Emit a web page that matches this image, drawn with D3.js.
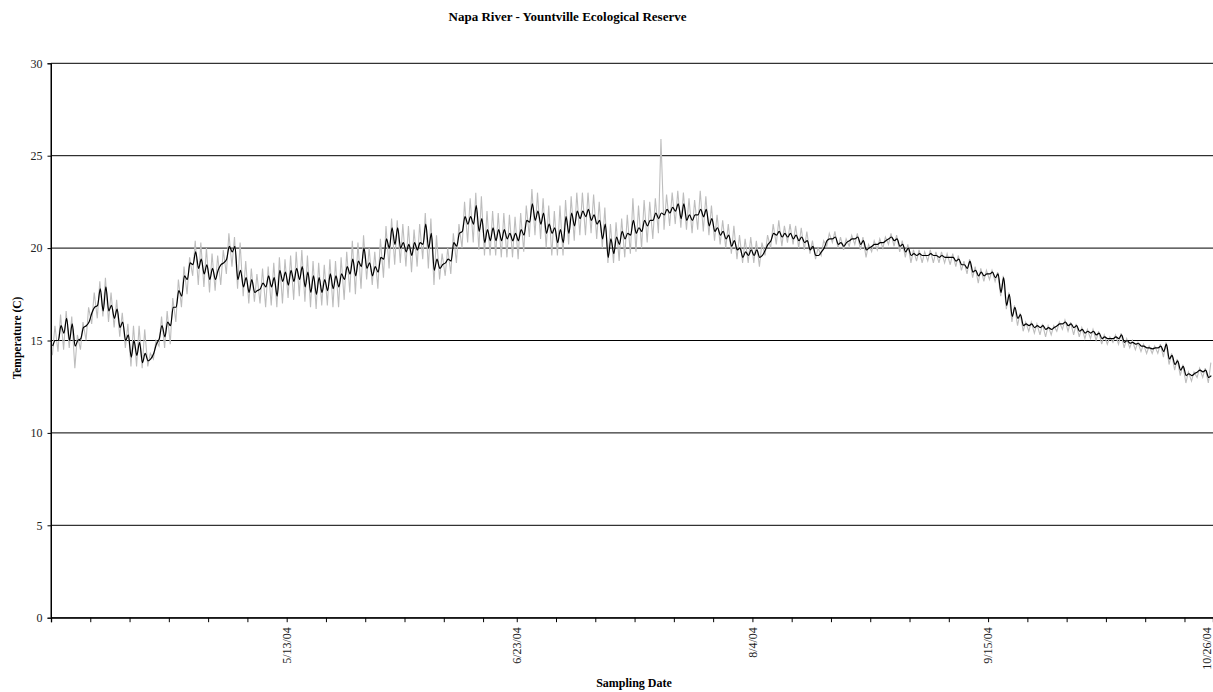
<!DOCTYPE html>
<html><head><meta charset="utf-8">
<script src="https://cdn.jsdelivr.net/npm/d3@7"></script>
<style>
body{margin:0;background:#fff}
svg{display:block}
text{font-family:"Liberation Serif","Times New Roman",serif}
</style>
</head><body>
<svg id="chart" width="1213" height="692"></svg>
<script>
// ---------- DATA ----------
const chartTitle = "Napa River - Yountville Ecological Reserve";
const xTitle = "Sampling Date";
const yTitle = "Temperature (C)";
const startDate = new Date(2004, 3, 1);           // first sampling day
const endDate = new Date(2004, 9, 25, 2);         // right edge of the visible plot
const yTicks = [0, 5, 10, 15, 20, 25, 30];
const tickDays = [0,7,14,21,28,35,42,49,56,63,70,77,83,90,97,104,111,118,125,132,139,146,153,160,167,174,181,188,195,202];
const labelDates = ["2004-05-13","2004-06-23","2004-08-04","2004-09-15","2004-10-26"];

// daily high / low of the raw (grey) record
const greyHigh = [15.8,16.4,16.6,16.3,15.3,16.0,16.8,17.6,18.2,18.4,17.6,17.2,16.5,15.9,15.8,15.8,15.6,14.3,15.0,16.3,16.6,17.3,18.3,19.0,19.5,20.4,20.3,20.0,19.7,19.6,19.9,20.8,20.6,20.3,19.3,18.9,18.6,18.9,19.0,19.2,19.5,19.4,
19.6,19.8,19.9,19.6,19.3,19.2,19.1,19.4,19.3,19.5,19.8,20.4,20.3,20.7,20.0,19.8,20.5,21.2,21.6,21.5,21.3,21.2,21.0,21.3,21.9,21.6,20.7,19.7,20.0,20.8,21.3,22.5,22.7,23.0,22.8,22.0,22.0,21.9,21.9,21.8,21.7,21.9,22.3,23.2,23.0,22.7,22.3,22.0,22.3,
22.6,22.8,23.0,23.0,23.0,22.9,22.5,22.2,21.3,21.4,21.6,21.8,22.7,22.3,22.6,22.5,22.7,25.9,22.9,23.0,23.1,23.0,22.7,22.6,23.1,22.8,22.3,21.8,21.5,21.3,21.2,20.7,20.5,20.6,20.4,20.3,20.7,21.3,21.5,21.2,21.3,21.2,21.1,20.9,20.4,20.0,20.4,20.8,20.9,20.6,20.5,
20.7,20.8,20.6,20.2,20.4,20.5,20.6,20.8,20.7,20.4,20.2,19.9,19.9,19.8,19.9,19.8,19.8,19.7,19.7,19.6,19.3,19.4,19.0,18.9,18.8,18.8,18.7,18.5,17.6,16.9,16.5,16.0,16.0,15.9,15.9,15.8,15.8,16.0,16.1,16.0,15.9,15.7,15.6,15.6,15.5,15.3,15.2,15.3,15.4,15.1,15.0,14.9,14.8,14.7,14.7,14.8,14.9,14.3,14.0,13.7,13.3,13.3,13.5,13.5,13.8];
const greyLow = [14.2,14.4,14.5,14.6,13.5,14.5,15.0,15.9,16.2,16.3,16.0,15.7,15.2,14.6,13.6,13.6,13.5,13.6,14.0,14.7,14.6,14.8,16.0,16.8,17.5,18.5,18.0,17.9,17.6,17.7,18.0,18.6,19.0,17.8,17.4,17.0,17.1,17.0,16.8,16.9,16.8,17.0,
17.3,17.2,17.4,17.1,16.8,16.7,16.9,16.9,16.8,16.8,17.2,17.6,17.5,17.8,18.3,18.0,17.8,18.4,18.9,19.1,19.2,19.0,18.7,19.0,19.4,18.9,18.0,18.3,18.5,18.6,19.2,20.0,20.3,20.3,19.9,19.6,19.6,19.6,19.5,19.5,19.5,19.4,19.8,20.6,20.7,20.5,20.0,19.6,19.6,
19.6,20.2,20.4,20.7,20.7,20.8,20.5,20.0,19.2,19.2,19.3,19.5,19.7,19.8,20.0,20.3,20.5,20.8,21.0,21.2,21.3,21.1,21.0,20.8,21.0,20.9,20.7,20.4,20.2,20.0,19.7,19.4,19.2,19.2,19.2,19.0,19.6,20.0,20.2,20.1,20.3,20.2,20.0,19.9,19.7,19.4,19.6,20.1,20.3,20.0,19.9,
20.1,20.2,19.9,19.5,19.8,19.9,20.0,20.2,20.1,19.8,19.5,19.2,19.3,19.2,19.3,19.2,19.2,19.2,19.1,19.0,18.8,18.6,18.4,18.1,18.2,18.3,18.2,17.4,16.7,16.0,15.8,15.5,15.5,15.4,15.3,15.2,15.3,15.5,15.6,15.5,15.3,15.2,15.1,15.1,15.0,14.8,14.8,14.9,14.8,14.6,14.6,14.5,14.4,14.3,14.3,14.3,14.1,13.7,13.4,13.1,12.7,12.8,13.0,13.0,12.7];
// daily high / low of the smoothed (black) record
const blackHigh = [15.0,15.8,16.2,15.9,15.0,15.7,16.0,16.8,17.8,17.9,16.9,16.7,16.0,15.3,15.0,14.9,14.3,14.0,14.8,15.8,16.0,16.8,17.7,18.5,19.2,19.8,19.4,19.1,18.9,18.8,19.2,20.1,20.1,18.8,18.4,18.3,17.7,18.1,18.5,18.4,18.8,18.7,
18.8,18.9,19.0,18.7,18.5,18.4,18.3,18.6,18.5,18.6,19.0,19.4,19.3,20.0,19.2,19.0,19.5,20.5,21.1,21.1,20.3,20.2,20.3,20.3,21.3,20.8,19.4,19.1,19.4,20.3,20.8,21.7,21.7,22.3,21.6,21.0,21.1,21.0,21.0,20.8,20.8,21.0,21.5,22.4,22.0,21.9,21.3,21.1,21.0,
21.7,21.9,22.0,22.0,22.1,21.8,21.5,21.3,20.5,20.6,20.9,20.8,21.5,21.1,21.5,21.5,21.9,21.9,22.1,22.2,22.4,22.4,21.8,21.8,22.1,22.1,21.6,21.1,20.9,20.7,20.4,20.0,19.8,19.9,19.9,19.6,20.2,20.8,20.9,20.8,20.8,20.7,20.6,20.4,20.1,19.6,20.0,20.5,20.6,20.3,20.3,
20.5,20.6,20.4,20.0,20.2,20.3,20.4,20.6,20.5,20.2,20.0,19.7,19.7,19.6,19.7,19.6,19.6,19.5,19.5,19.4,19.1,19.3,18.8,18.7,18.6,18.7,18.6,18.4,17.5,16.8,16.4,15.9,15.9,15.8,15.8,15.7,15.7,15.9,16.0,15.9,15.8,15.6,15.5,15.5,15.4,15.2,15.1,15.2,15.3,15.0,14.9,14.85,14.7,14.6,14.6,14.7,14.8,14.2,13.9,13.6,13.2,13.2,13.4,13.4,13.1];
const blackLow = [14.7,15.0,15.4,15.0,14.7,15.1,15.8,16.5,16.9,16.6,16.6,16.2,15.7,15.0,14.1,14.2,13.8,13.9,14.3,15.1,15.2,15.8,16.8,17.4,18.3,19.1,18.9,18.6,18.3,18.3,19.1,19.4,19.8,18.3,17.9,17.6,17.6,17.8,17.9,17.9,17.4,18.2,
18.0,18.2,18.3,17.9,17.6,17.5,17.6,17.7,17.8,17.9,18.3,18.6,18.5,19.0,18.9,18.5,18.7,19.4,20.0,20.2,20.0,19.8,19.6,19.9,20.2,20.0,18.8,18.9,19.2,19.3,20.1,20.9,21.3,21.3,20.9,20.3,20.4,20.4,20.4,20.5,20.4,20.4,20.7,21.4,21.5,21.3,20.8,20.8,20.3,
20.3,20.8,21.2,21.6,21.7,21.5,21.3,20.5,19.5,19.7,20.2,20.5,20.7,20.8,20.9,21.2,21.5,21.6,21.8,21.9,22.0,21.6,21.5,21.5,21.8,21.7,21.2,20.9,20.7,20.5,20.1,19.9,19.5,19.6,19.6,19.5,19.9,20.4,20.7,20.6,20.6,20.5,20.4,20.3,19.9,19.6,19.8,20.4,20.5,20.2,20.1,
20.4,20.5,20.2,19.9,20.1,20.2,20.3,20.5,20.4,20.1,19.8,19.6,19.6,19.6,19.6,19.6,19.5,19.5,19.5,19.3,19.1,18.9,18.7,18.5,18.5,18.6,18.4,17.6,16.9,16.3,16.2,15.8,15.8,15.7,15.7,15.6,15.6,15.8,15.9,15.8,15.7,15.5,15.4,15.4,15.3,15.1,15.1,15.1,15.1,14.9,14.85,14.8,14.7,14.6,14.55,14.6,14.4,14.0,13.7,13.4,13.1,13.1,13.3,13.3,13.0];

// ---------- CHART ----------
const W = 1213, H = 692;
const m = {left: 51, top: 63.3, right: 1213, bottom: 617.7};
const svg = d3.select("#chart");

const x = d3.scaleTime().domain([startDate, endDate]).range([m.left, m.right]);
const y = d3.scaleLinear().domain([0, 30]).range([m.bottom, m.top]);
const dayToDate = (d) => new Date(startDate.getTime() + d * 86400000);

// build the alternating low/high sequence of each record (time-of-day offsets)
function series(lo, hi, tLo, tHi) {
  const pts = [];
  for (let i = 0; i < lo.length; i++) {
    pts.push({t: dayToDate(i + tLo), v: lo[i]});
    pts.push({t: dayToDate(i + tHi), v: hi[i]});
  }
  return pts;
}
const greySeries = series(greyLow, greyHigh, 0.25, 0.7);
const blackSeries = series(blackLow, blackHigh, 0.3, 0.78);

// gridlines
svg.append("g").selectAll("line").data(yTicks).join("line")
  .attr("x1", m.left).attr("x2", m.right)
  .attr("y1", d => y(d)).attr("y2", d => y(d))
  .attr("stroke", "#000").attr("stroke-width", 1);

// y axis
const yAxis = svg.append("g").attr("transform", `translate(${m.left},0)`)
  .call(d3.axisLeft(y).tickValues(yTicks).tickSize(3.5).tickPadding(5).tickFormat(d3.format("d")));
yAxis.select(".domain").attr("stroke", "#000");
yAxis.selectAll("text").attr("font-size", 12).attr("fill", "#222")
  .attr("font-family", '"Liberation Serif",serif');

// x axis (ticks only; labels drawn separately)
const xAxis = svg.append("g").attr("transform", `translate(0,${m.bottom})`)
  .call(d3.axisBottom(x).tickValues(tickDays.map(dayToDate)).tickSize(4.5).tickFormat(""));
xAxis.select(".domain").attr("stroke", "#000").attr("stroke-width", 1.3);

const fmt = d3.timeFormat("%-m/%-d/%y");
const parse = d3.timeParse("%Y-%m-%d");
svg.append("g").selectAll("text").data(labelDates).join("text")
  .attr("transform", d => `translate(${Math.min(x(parse(d)), W - 6)},${m.bottom + 9.5}) rotate(-90)`)
  .attr("text-anchor", "end").attr("dy", "0.35em")
  .attr("font-size", 12).attr("fill", "#222")
  .text(d => fmt(parse(d)));

// clip
svg.append("clipPath").attr("id", "plotclip").append("rect")
  .attr("x", m.left).attr("y", m.top).attr("width", m.right - m.left).attr("height", m.bottom - m.top);

const line = d3.line().x(d => x(d.t)).y(d => y(d.v));
svg.append("path").datum(greySeries)
  .attr("clip-path", "url(#plotclip)")
  .attr("fill", "none").attr("stroke", "#bdbdbd").attr("stroke-width", 1.1)
  .attr("d", line);
svg.append("path").datum(blackSeries)
  .attr("clip-path", "url(#plotclip)")
  .attr("fill", "none").attr("stroke", "#000").attr("stroke-width", 1.2)
  .attr("d", line.curve(d3.curveMonotoneX));

// left axis line on top
svg.append("line").attr("x1", m.left).attr("x2", m.left).attr("y1", m.top).attr("y2", m.bottom)
  .attr("stroke", "#000");

// titles
svg.append("text").attr("x", 567.5).attr("y", 21).attr("text-anchor", "middle")
  .attr("font-size", 13).attr("font-weight", "bold").text(chartTitle);
svg.append("text").attr("x", 634).attr("y", 687).attr("text-anchor", "middle")
  .attr("font-size", 12).attr("font-weight", "bold").text(xTitle);
svg.append("text").attr("transform", `translate(20.5,338) rotate(-90)`).attr("text-anchor", "middle")
  .attr("font-size", 11.5).attr("font-weight", "bold").text(yTitle);
</script>
</body></html>
